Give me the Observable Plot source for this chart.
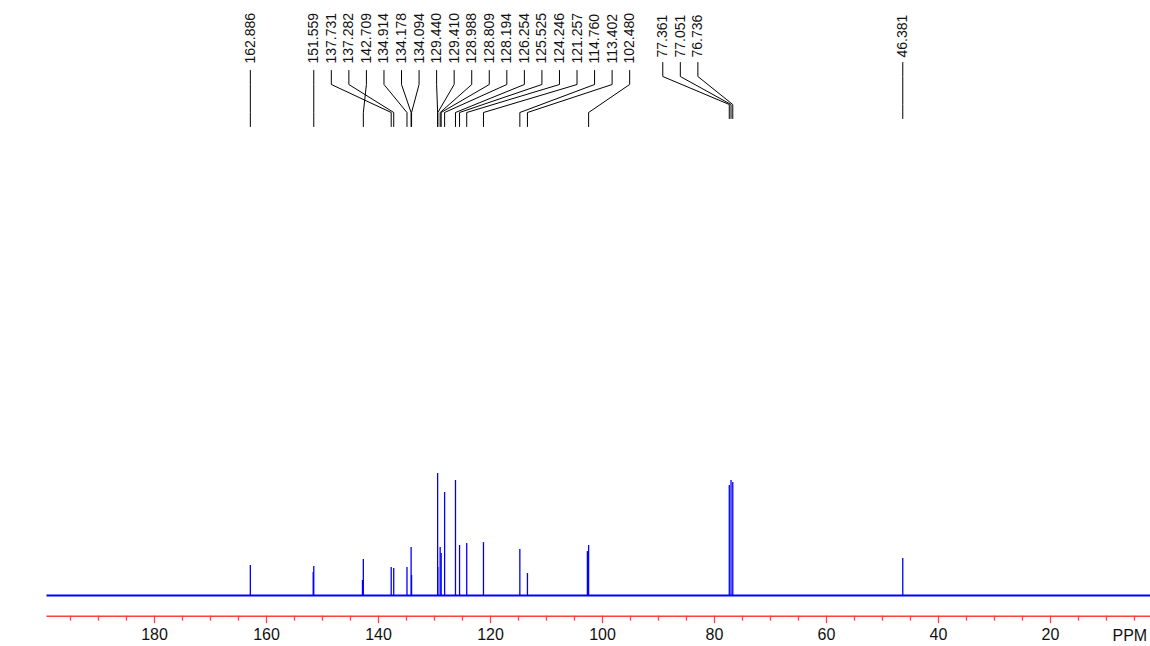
<!DOCTYPE html>
<html><head><meta charset="utf-8">
<script src="https://cdn.jsdelivr.net/npm/d3@7"></script>
<script src="https://cdn.jsdelivr.net/npm/@observablehq/plot@0.6"></script>
<style>
html,body{margin:0;padding:0;background:#fff;}
#chart svg{display:block;}
</style>
</head><body><div id="chart"></div>
<script>
// ---------- data ----------
const peakLabels = ["162.886","151.559","137.731","137.282","142.709","134.914","134.178","134.094",
  "129.440","129.410","128.988","128.809","128.194","126.254","125.525","124.246","121.257",
  "114.760","113.402","102.480","77.361","77.051","76.736","46.381"];
const peakPpm = [162.886,151.559,137.731,137.282,142.709,134.914,134.178,134.094,
  129.440,129.410,128.988,128.809,128.194,126.254,125.525,124.246,121.257,
  114.760,113.402,102.480,77.361,77.051,76.736,46.381];
const peakIntensity = [24.6,23.8,23.0,22.1,29.5,23.0,39.3,16.4,
  100,23.0,39.3,34.4,84.4,94.3,41.0,42.6,43.4,
  37.7,18.0,41.0,90.2,94.3,92.6,30.3];
const labelGroup = [0,1,1,1,1,1,1,1, 1,1,1,1,1,1,1,1,1, 1,1,1, 2,2,2, 3];
// unlabeled companion lines visible next to labeled ones
const extraPpm = [151.66, 142.86, 102.70];
const extraIntensity = [18.9, 12.3, 36.0];
const majorTicks = [180,160,140,120,100,80,60,40,20];
const minorTicks = [195,190,185,175,170,165,155,150,145,135,130,125,115,110,105,95,90,85,
  75,70,65,55,50,45,35,30,25,15,10,5];
const axisUnit = "PPM";

// ---------- layout ----------
const W = 1150, H = 646;
const X_DOMAIN = [199.2, 2.0], X_RANGE = [46.48, 1150.8];
const Y_DOMAIN = [0, 100], Y_RANGE = [595, 473];
const MARGIN_BOTTOM = 30.3;
const BLUE = "#0000ff", RED = "#ff4040";
const FONT = "'Liberation Sans', Arial, Helvetica, sans-serif";
const xs = Plot.scale({x: {domain: X_DOMAIN, range: X_RANGE}});
const ys = Plot.scale({y: {domain: Y_DOMAIN, range: Y_RANGE}});
const yAt = px => ys.invert(px);
const xAt = px => xs.invert(px);

const LABEL_STEP = 17.55;
const blocks = [
  {textBottom: 63, stemTop: 70, bend: 84, diagEnd: 112, bottom: 126},
  {textBottom: 57, stemTop: 62, bend: 76, diagEnd: 104, bottom: 118}
];
const groupBlock = [0, 0, 1, 1];
const groupShift = [0, 0, -66.5, 0];

const peaks = peakPpm.map((p, i) => ({ppm: p, h: peakIntensity[i]}))
  .concat(extraPpm.map((p, i) => ({ppm: p, h: extraIntensity[i]})));

const labelRows = [], leaderRows = [];
const groupIdx = {};
peakLabels.forEach((lab, i) => {
  const g = labelGroup[i];
  if (!(g in groupIdx)) groupIdx[g] = {start: xs.apply(peakPpm[i]) + groupShift[g], n: 0};
  const slotPx = groupIdx[g].start + LABEL_STEP * groupIdx[g].n++;
  const b = blocks[groupBlock[g]];
  const peakPx = xs.apply(peakPpm[i]);
  labelRows.push({label: lab, x: xAt(slotPx), y: yAt(b.textBottom)});
  [[slotPx, b.stemTop], [slotPx, b.bend], [peakPx, b.diagEnd], [peakPx, b.bottom]]
    .forEach(([px, py]) => leaderRows.push({label: lab, x: xAt(px), y: yAt(py)}));
});

const axisY = yAt(H - MARGIN_BOTTOM);

const chart = Plot.plot({
  width: W, height: H,
  marginTop: 0, marginRight: 0, marginLeft: 0, marginBottom: MARGIN_BOTTOM,
  style: {fontFamily: FONT, background: "#fff", color: "#000", overflow: "visible"},
  x: {domain: X_DOMAIN, range: X_RANGE, axis: null},
  y: {domain: Y_DOMAIN, range: Y_RANGE, axis: null},
  marks: [
    // baseline of the spectrum
    Plot.ruleY([0], {x1: X_DOMAIN[0], x2: X_DOMAIN[1], stroke: BLUE, strokeWidth: 2.2}),
    // peaks
    Plot.ruleX(peaks, {x: "ppm", y1: 0, y2: "h", stroke: BLUE, strokeWidth: 1.3}),
    // peak labels and leaders
    Plot.line(leaderRows, {x: "x", y: "y", z: "label", stroke: "#000", strokeWidth: 1}),
    Plot.text(labelRows, {x: "x", y: "y", text: "label", rotate: -90, textAnchor: "start",
      lineAnchor: "middle", fontSize: 14, fill: "#111"}),
    // axis
    Plot.ruleY([axisY], {x1: X_DOMAIN[0], x2: X_DOMAIN[1], stroke: RED, strokeWidth: 1.4}),
    Plot.axisX(minorTicks, {anchor: "bottom", tickSize: 5, tickFormat: () => "", stroke: RED,
      strokeWidth: 1.3, label: null}),
    Plot.axisX(majorTicks, {anchor: "bottom", tickSize: 7.5, tickPadding: 5, stroke: RED, fill: "#111",
      strokeWidth: 1.3, fontSize: 16, label: null}),
    Plot.text([axisUnit], {frameAnchor: "bottom-right", textAnchor: "end", lineAnchor: "middle",
      dx: -3.3, dy: 19.5, fontSize: 16, fill: "#111"})
  ]
});
document.getElementById("chart").appendChild(chart);
</script>
</body></html>
